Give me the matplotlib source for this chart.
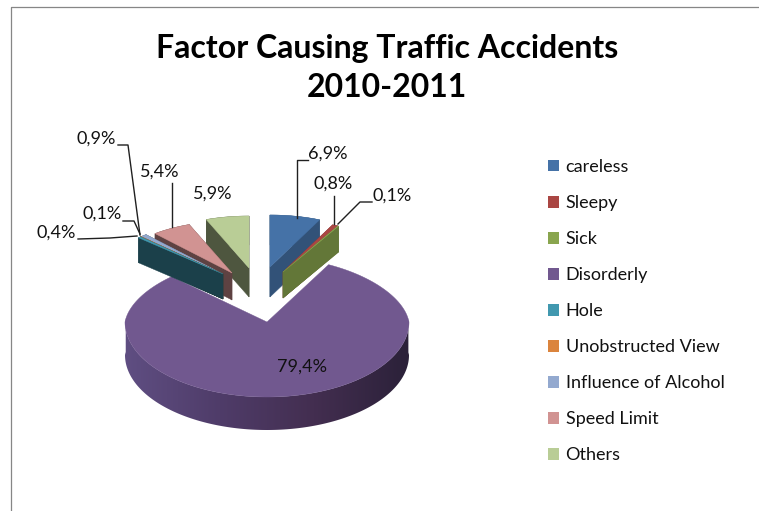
import numpy as np
import matplotlib
matplotlib.use("Agg")
import matplotlib.pyplot as plt
from matplotlib.patches import Patch, Polygon
from matplotlib.colors import LinearSegmentedColormap, to_rgb

plt.rcParams['font.family'] = ['Lato', 'DejaVu Sans']

# shares as printed on the chart, clockwise from 12 o'clock
categories = ["careless", "Sleepy", "Sick", "Disorderly", "Hole",
              "Unobstructed View", "Influence of Alcohol", "Speed Limit", "Others"]
values = [6.9, 0.8, 0.1, 79.4, 0.4, 0.1, 0.9, 5.4, 5.9]
colors = ["#4572a7", "#aa4643", "#89a54e", "#71588f", "#4198af",
          "#db843d", "#93a9cf", "#d19392", "#b9cd96"]
value_labels = ["6,9%", "0,8%", "0,1%", "79,4%", "0,4%", "0,1%", "0,9%", "5,4%", "5,9%"]

W, H = 759, 511
fig = plt.figure(figsize=(W / 100, H / 100), dpi=100)
ax = fig.add_axes([0, 0, 1, 1])
ax.set_xlim(0, W)
ax.set_ylim(H, 0)
ax.axis("off")

# frame of the chart area, only top and left are in the crop
ax.plot([10.5, 10.5, W], [H, 7.5, 7.5], color="#868686", lw=0.9)

# angles in degrees clockwise from the top
cum = np.cumsum([0] + values) / sum(values) * 360
rim = LinearSegmentedColormap.from_list("rim", ["#5f4e82", "#4f3c69", "#432e50", "#2b2139"])


def arc_pts(a0, a1, cx, cy, rx, ry, ry_back=None, squeeze=0.0):
    t = np.radians(np.linspace(a0, a1, max(3, int(abs(a1 - a0)) * 2)))
    c = np.cos(t)
    back = c > 0
    ys = np.where(back, (ry_back or ry) * c, ry * c)
    xs = rx * np.sin(t) * (1 - squeeze * np.clip(c, 0, None))
    return np.column_stack([cx + xs, cy - ys])


def draw_slice(i, cx, cy, rx, ry, depth, side):
    a0, a1 = cum[i], cum[i + 1]
    pts = arc_pts(a0, a1, cx, cy, rx, ry)
    base = np.array(to_rgb(colors[i]))
    dark = tuple(base * side)
    # radial faces first, the top face hides whichever one faces away
    for p in (pts[0], pts[-1]):
        quad = [(cx, cy), tuple(p), (p[0], p[1] + depth), (cx, cy + depth)]
        ax.add_patch(Polygon(quad, fc=dark, ec=dark, lw=0.3))
    ax.add_patch(Polygon(np.vstack([pts, pts[::-1] + [0, depth]]), fc=dark, ec=dark, lw=0.3))
    ax.add_patch(Polygon(np.vstack([[cx, cy], pts]), fc=colors[i], ec=colors[i], lw=0.3))


# big slice, rim shaded left to right with a clipped gradient
PCX, PCY, PRX, PRY, PDEPTH = 267, 322, 142, 75, 33
pts = arc_pts(cum[3], cum[4], PCX, PCY, PRX, PRY, ry_back=65, squeeze=0.09)
front = pts[pts[:, 1] >= PCY - 3]
outline = Polygon(np.vstack([front, front[::-1] + [0, PDEPTH]]), fc="none", ec="none")
ax.add_patch(outline)
grad = ax.imshow(np.linspace(0, 1, 256).reshape(1, -1), cmap=rim, aspect="auto",
                 extent=(PCX - PRX, PCX + PRX, PCY + PRY + PDEPTH, PCY - 5))
grad.set_clip_path(outline)
ax.set_xlim(0, W)
ax.set_ylim(H, 0)
ax.add_patch(Polygon(np.vstack([[PCX, PCY], pts]), fc=colors[3], ec=colors[3], lw=0.3))

# exploded slices, back ones first
RX, RY = 118, 52
draw_slice(8, 249, 268, RX, RY, 29, 0.42)
draw_slice(7, 232, 273, RX, RY, 27, 0.45)
draw_slice(6, 223, 274, RX, RY, 25, 0.45)
draw_slice(5, 223, 274, RX, RY, 25, 0.45)
draw_slice(4, 223, 274, RX, RY, 25, 0.42)
draw_slice(0, 270, 267, RX, RY, 30, 0.72)
draw_slice(1, 283, 272, RX, RY, 26, 0.72)
draw_slice(2, 283, 272, RX, RY, 26, 0.72)

# leader lines
leaders = [
    [(308, 160), (297, 160), (297, 218)],
    [(334, 196), (334, 224)],
    [(372, 202), (360, 202), (338, 224)],
    [(118, 145), (128, 145), (140, 235)],
    [(123, 221), (134, 221), (140, 234)],
    [(172, 183), (172, 227)],
    [(78, 239), (110, 238), (137, 236)],
]
for seg in leaders:
    xs, ys = zip(*seg)
    ax.plot(xs, ys, color="#202020", lw=1.0)

# value labels
label_pos = [(328, 154), (333, 184), (392, 196), (302, 367), (56, 233),
             (102, 214), (96, 139), (160, 172), (213, 194)]
for lab, (x, y) in zip(value_labels, label_pos):
    ax.text(x, y, lab, ha="center", va="center", fontsize=13, color="#111111")

ax.text(387, 68, "Factor Causing Traffic Accidents\n2010-2011", ha="center", va="center",
        fontsize=23, fontweight="bold", color="black", linespacing=1.45)

handles = [Patch(fc=c, ec="none") for c in colors]
ax.legend(handles, categories, loc="upper left", bbox_to_anchor=(548 / W, 1 - 159 / H),
          frameon=False, fontsize=13, labelspacing=1.11, handlelength=0.62,
          handleheight=0.62, handletextpad=0.35, labelcolor="#111111", borderpad=0,
          borderaxespad=0)

fig.savefig("out.png", dpi=100)
